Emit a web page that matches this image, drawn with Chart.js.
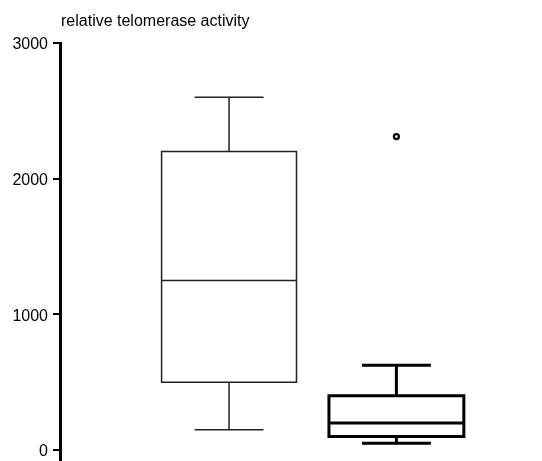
<!DOCTYPE html>
<html>
<head>
<meta charset="utf-8">
<script src="https://cdn.jsdelivr.net/npm/chart.js@4/dist/chart.umd.min.js"></script>
<style>
html,body{margin:0;padding:0;background:#fff;}
#wrap{width:542px;height:461px;position:relative;}
</style>
</head>
<body>
<div id="wrap"><canvas id="c"></canvas></div>
<script>
const categories = ['Group 1', 'Group 2'];
const whiskerLow = [150, 50];
const q1Values = [500, 100];
const medianValues = [1250, 200];
const q3Values = [2200, 400];
const whiskerHigh = [2600, 625];
const outlierValues = [[], [2310]];
const yTickValues = [0, 1000, 2000, 3000];
const yTitle = 'relative telomerase activity';

const boxStyles = [
  {color: '#222', width: 1.5},
  {color: '#000', width: 3}
];
const BOX_HALF = 0.403;
const CAP_HALF = 0.206;

const outlierPoints = [];
outlierValues.forEach((arr, i) => arr.forEach(v => outlierPoints.push({x: i + 1, y: v})));

const boxPlugin = {
  id: 'boxes',
  beforeDatasetsDraw(chart) {
    const ctx = chart.ctx;
    const xs = chart.scales.x, ys = chart.scales.y;
    categories.forEach((c, i) => {
      const cx = xs.getPixelForValue(i + 1);
      const l = xs.getPixelForValue(i + 1 - BOX_HALF);
      const r = xs.getPixelForValue(i + 1 + BOX_HALF);
      const cl = xs.getPixelForValue(i + 1 - CAP_HALF);
      const cr = xs.getPixelForValue(i + 1 + CAP_HALF);
      const yLo = ys.getPixelForValue(whiskerLow[i]);
      const yQ1 = ys.getPixelForValue(q1Values[i]);
      const yMed = ys.getPixelForValue(medianValues[i]);
      const yQ3 = ys.getPixelForValue(q3Values[i]);
      const yHi = ys.getPixelForValue(whiskerHigh[i]);
      ctx.save();
      ctx.strokeStyle = boxStyles[i].color;
      ctx.lineWidth = boxStyles[i].width;
      ctx.lineCap = 'butt';
      ctx.lineJoin = 'miter';
      ctx.beginPath();
      ctx.rect(l, yQ3, r - l, yQ1 - yQ3);
      ctx.moveTo(l, yMed); ctx.lineTo(r, yMed);
      ctx.moveTo(cx, yQ3); ctx.lineTo(cx, yHi);
      ctx.moveTo(cl, yHi); ctx.lineTo(cr, yHi);
      ctx.moveTo(cx, yQ1); ctx.lineTo(cx, yLo);
      ctx.moveTo(cl, yLo); ctx.lineTo(cr, yLo);
      ctx.stroke();
      ctx.restore();
    });
  },
  afterDraw(chart) {
    const ctx = chart.ctx;
    ctx.save();
    ctx.fillStyle = '#000';
    ctx.font = '16px "Liberation Sans", Arial, sans-serif';
    ctx.textAlign = 'left';
    ctx.textBaseline = 'alphabetic';
    ctx.fillText(yTitle, chart.chartArea.left + 1, 26);
    ctx.restore();
  }
};

new Chart(document.getElementById('c'), {
  type: 'scatter',
  data: {
    datasets: [{
      data: outlierPoints,
      pointStyle: 'circle',
      pointRadius: 2.5,
      borderWidth: 2.2,
      borderColor: '#000',
      backgroundColor: '#fff'
    }]
  },
  options: {
    responsive: true,
    maintainAspectRatio: false,
    animation: false,
    layout: {autoPadding: false, padding: {top: 43, right: 0, bottom: 0, left: 0}},
    plugins: {legend: {display: false}, tooltip: {enabled: false}},
    scales: {
      x: {type: 'linear', min: -0.01, max: 2.87, display: false},
      y: {
        min: -81, max: 3000,
        afterBuildTicks: s => { s.ticks = yTickValues.map(v => ({value: v})); },
        afterFit: s => { s.width = 60; s.paddingTop = 0; s.paddingBottom = 0; },
        border: {display: true, color: '#000', width: 3},
        grid: {drawOnChartArea: false, drawTicks: true, tickLength: 7, tickWidth: 2, tickColor: '#000', color: '#000', lineWidth: 2},
        ticks: {color: '#000', padding: 5, labelOffset: 2, callback: v => String(v), font: {family: '"Liberation Sans", Arial, sans-serif', size: 16}}
      }
    }
  },
  plugins: [boxPlugin]
});
</script>
</body>
</html>
